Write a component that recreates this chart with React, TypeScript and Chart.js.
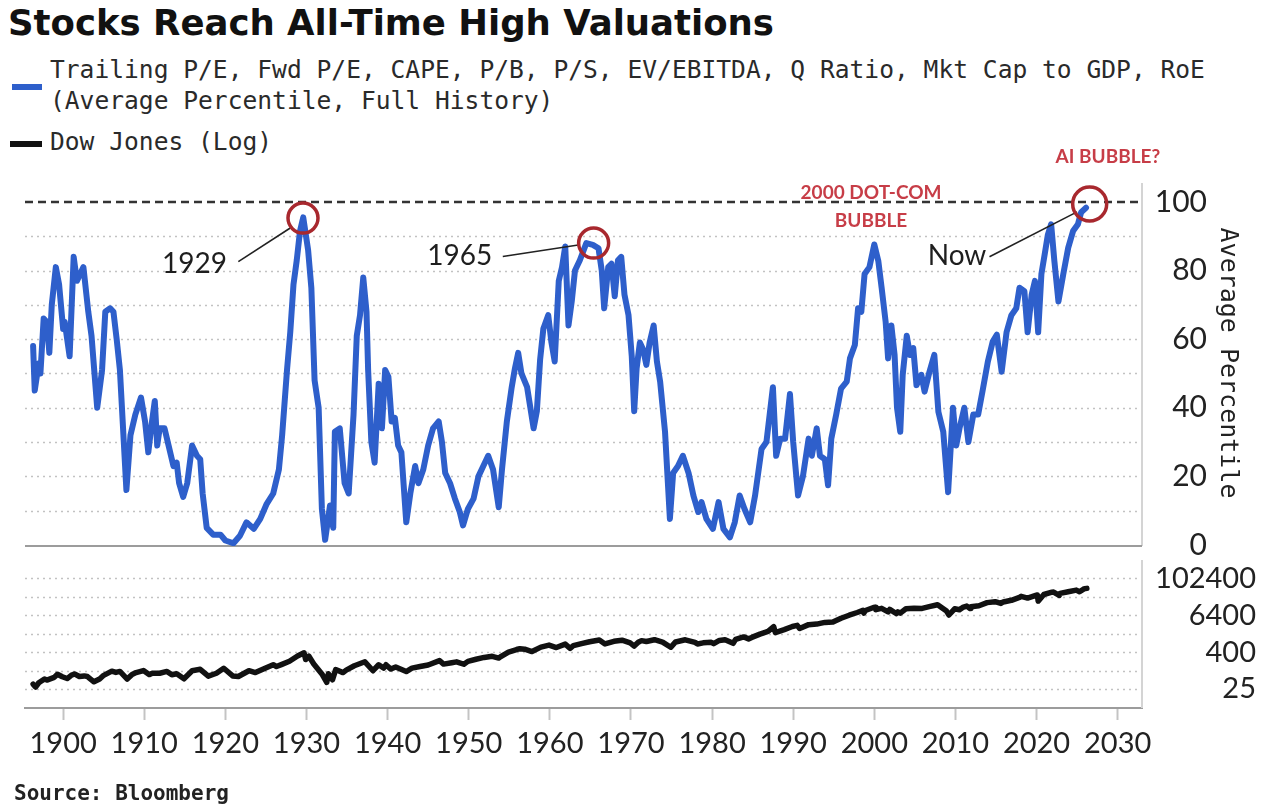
import React, { useEffect, useRef } from 'react';
import { Chart, registerables } from 'chart.js';

Chart.register(...registerables);

// Average valuation percentile (9 metrics, full history)
const valuationYears = [
  1896.3, 1896.5, 1897.0, 1897.2, 1897.6, 1898.0, 1898.3, 1898.6, 1899.1, 1899.5,
  1900.0, 1900.2, 1900.8, 1901.3, 1901.7, 1902.1, 1902.5, 1903.1, 1903.5, 1904.2,
  1904.8, 1905.2, 1905.8, 1906.2, 1906.6, 1907.0, 1907.8, 1908.3, 1908.9, 1909.6,
  1910.1, 1910.5, 1910.9, 1911.3, 1911.6, 1911.9, 1912.5, 1913.0, 1913.6, 1914.0,
  1914.3, 1914.8, 1915.3, 1915.9, 1916.5, 1916.9, 1917.2, 1917.7, 1918.5, 1919.4,
  1920.0, 1921.0, 1921.8, 1922.6, 1923.5, 1924.3, 1925.1, 1925.9, 1926.6, 1927.0,
  1927.6, 1928.0, 1928.4, 1928.8, 1929.2, 1929.6, 1930.2, 1930.6, 1931.0, 1931.5,
  1931.9, 1932.3, 1932.9, 1933.3, 1933.5, 1934.1, 1934.7, 1935.2, 1935.8, 1936.2,
  1936.6, 1937.0, 1937.4, 1937.6, 1938.0, 1938.4, 1938.9, 1939.3, 1939.7, 1940.1,
  1940.5, 1940.9, 1941.3, 1941.7, 1942.3, 1942.8, 1943.4, 1943.8, 1944.4, 1945.0,
  1945.6, 1946.3, 1946.7, 1947.1, 1947.7, 1948.3, 1948.9, 1949.3, 1949.9, 1950.6,
  1951.2, 1951.8, 1952.4, 1953.0, 1953.7, 1954.1, 1954.7, 1955.3, 1955.7, 1956.1,
  1956.5, 1957.2, 1957.6, 1958.0, 1958.4, 1958.8, 1959.2, 1959.8, 1960.2, 1960.6,
  1961.1, 1961.5, 1961.9, 1962.3, 1962.7, 1963.1, 1963.7, 1964.5, 1965.3, 1966.0,
  1966.4, 1966.7, 1967.2, 1967.6, 1968.0, 1968.4, 1968.8, 1969.2, 1969.7, 1970.1,
  1970.4, 1970.7, 1971.1, 1971.5, 1971.9, 1972.3, 1972.8, 1973.2, 1973.6, 1974.2,
  1974.8, 1975.2, 1975.8, 1976.4, 1977.1, 1977.7, 1978.3, 1978.7, 1979.3, 1980.1,
  1980.8, 1981.4, 1982.2, 1982.8, 1983.4, 1984.0, 1984.7, 1985.3, 1986.1, 1986.7,
  1987.1, 1987.5, 1987.9, 1988.4, 1989.0, 1989.6, 1990.0, 1990.6, 1991.2, 1991.9,
  1992.3, 1992.9, 1993.3, 1993.9, 1994.3, 1994.7, 1995.3, 1995.9, 1996.6, 1997.0,
  1997.6, 1998.0, 1998.4, 1998.8, 1999.4, 2000.0, 2000.5, 2000.9, 2001.4, 2001.7,
  2002.1, 2002.5, 2002.8, 2003.2, 2003.5, 2004.0, 2004.4, 2004.8, 2005.2, 2005.8,
  2006.2, 2006.8, 2007.4, 2007.9, 2008.5, 2009.1, 2009.7, 2010.1, 2010.5, 2011.1,
  2011.6, 2012.2, 2012.8, 2013.4, 2014.0, 2014.6, 2015.1, 2015.7, 2016.3, 2016.9,
  2017.5, 2017.9, 2018.5, 2018.9, 2019.4, 2019.8, 2020.2, 2020.6, 2021.0, 2021.4,
  2021.8, 2022.2, 2022.7, 2023.3, 2023.9, 2024.5, 2025.1, 2025.5, 2026.1,
];
const valuationPercentile = [
  58, 45, 53, 50, 66, 65, 56, 70, 81, 76,
  63, 65, 55, 84, 77, 79, 81, 68, 61, 40,
  51, 68, 69, 68, 60, 51, 16, 32, 38, 43,
  36, 27, 35, 42, 29, 34, 34, 29, 23, 24,
  18, 14, 18, 29, 26, 25, 15, 5, 3, 3,
  1.3, 0.5, 2.7, 6.6, 4.7, 7.6, 12, 15, 22, 32,
  51, 62, 76, 83, 91.5, 95.5, 86, 75, 48, 40,
  10.5, 1.5, 11.5, 5, 33, 34, 18, 15, 38, 61,
  67, 78, 68, 51, 30, 24, 47, 34, 51, 49,
  36, 37, 29, 27, 6.6, 15, 23, 18, 22, 29,
  34, 36, 30, 21, 18, 13.5, 9.6, 5.7, 10.5, 13.5,
  20, 23, 26, 22, 11, 22, 36, 46, 51.5, 56,
  50, 46, 40, 34, 39, 54, 63, 67, 59, 53.5,
  77, 81, 87, 64, 71, 80, 83, 88, 87.5, 86.5,
  80, 69, 81, 82, 72.5, 83, 84, 73, 67, 55,
  39, 51.5, 59, 57, 52.5, 59, 64, 53.5, 47.6, 33,
  7.6, 21, 23, 26, 21, 14.4, 9.6, 12.5, 7.6, 4.7,
  12.5, 4.7, 2.2, 6.6, 14.4, 10.5, 6.6, 14.4, 28, 30,
  38, 46, 26, 31, 31, 44, 30, 14.4, 20, 31,
  26, 34, 26, 25, 17.4, 31, 38, 45.6, 47.6, 54.4,
  58.3, 69, 68, 79, 81, 87.6, 82.7, 75, 65, 54.4,
  64, 55.4, 40, 33, 49.6, 61, 55.4, 57.4, 46.6, 49.6,
  44.7, 50.5, 55.4, 38.8, 33, 15.4, 40, 29, 34, 40,
  30, 38, 38, 45.6, 53.5, 59.3, 61.3, 50.5, 62, 67,
  69, 75, 74, 62, 73, 77, 62, 79, 84.7, 90.5,
  93.5, 82.7, 71, 79, 86.6, 91.5, 93.5, 97, 98.3,
];

// Dow Jones Industrial Average (index level, log axis)
const dowYears = [
  1896.3, 1896.6, 1897.0, 1897.7, 1898.0, 1898.9, 1899.3, 1899.9, 1900.5, 1901.0,
  1901.4, 1902.0, 1902.6, 1903.0, 1903.8, 1904.5, 1905.0, 1906.0, 1906.5, 1907.0,
  1907.9, 1908.5, 1909.0, 1909.9, 1910.6, 1911.0, 1911.9, 1912.8, 1913.4, 1914.0,
  1914.9, 1915.9, 1916.9, 1917.9, 1918.9, 1919.8, 1920.9, 1921.6, 1922.9, 1923.7,
  1924.9, 1925.9, 1926.3, 1926.9, 1927.9, 1928.9, 1929.7, 1929.9, 1930.3, 1930.9,
  1931.9, 1932.5, 1932.7, 1933.2, 1933.6, 1934.5, 1934.9, 1935.9, 1937.2, 1938.2,
  1938.9, 1939.5, 1939.8, 1940.4, 1941.0, 1942.3, 1943.0, 1944.0, 1945.0, 1946.4,
  1946.9, 1947.9, 1948.5, 1949.4, 1949.9, 1950.9, 1951.9, 1952.9, 1953.7, 1953.9,
  1954.9, 1955.9, 1956.3, 1956.9, 1957.8, 1958.9, 1959.9, 1960.8, 1961.9, 1962.5,
  1962.9, 1963.9, 1964.9, 1966.1, 1966.8, 1967.9, 1968.9, 1969.9, 1970.4, 1970.9,
  1971.3, 1971.9, 1972.9, 1973.9, 1974.9, 1975.5, 1976.7, 1977.9, 1978.2, 1978.9,
  1979.9, 1980.2, 1980.9, 1981.6, 1982.6, 1982.9, 1983.9, 1984.5, 1984.9, 1985.9,
  1986.9, 1987.6, 1987.8, 1988.9, 1989.9, 1990.5, 1990.8, 1991.9, 1992.9, 1993.9,
  1994.9, 1995.9, 1996.9, 1997.9, 1998.6, 1998.7, 1998.9, 1999.9, 2000.1, 2000.2,
  2000.9, 2001.7, 2001.9, 2002.7, 2002.9, 2003.2, 2003.9, 2004.9, 2005.9, 2006.9,
  2007.8, 2008.9, 2009.2, 2009.9, 2010.5, 2010.9, 2011.4, 2011.8, 2011.9, 2012.9,
  2013.9, 2014.9, 2015.6, 2015.9, 2016.9, 2017.9, 2018.1, 2018.9, 2019.9, 2020.1,
  2020.2, 2020.9, 2021.9, 2022.1, 2022.8, 2022.9, 2023.9, 2024.9, 2025.3, 2025.9,
  2026.2,
];
const dowLevels = [
  36, 29, 40, 53, 49, 60, 76, 63, 55, 70,
  78, 64, 67, 64, 43, 53, 70, 96, 87, 94,
  53, 75, 86, 100, 74, 82, 82, 94, 73, 79,
  54, 99, 110, 66, 82, 119, 67, 64, 99, 86,
  120, 156, 136, 157, 202, 300, 381, 230, 294, 165,
  78, 41, 79, 50, 108, 86, 104, 144, 194, 99,
  155, 121, 155, 112, 131, 93, 120, 136, 152, 212,
  163, 181, 193, 161, 200, 235, 269, 292, 256, 281,
  404, 488, 521, 500, 420, 584, 679, 566, 734, 535,
  652, 763, 874, 995, 744, 905, 985, 800, 631, 839,
  950, 890, 1020, 851, 578, 860, 1015, 831, 742, 805,
  839, 759, 964, 1024, 777, 1047, 1259, 1087, 1212, 1547,
  1896, 2722, 1739, 2169, 2753, 2999, 2365, 3169, 3301, 3754,
  3834, 5117, 6448, 7908, 9338, 7539, 9181, 11497, 11723, 9796,
  10787, 8236, 10022, 7286, 8342, 7524, 10454, 10783, 10718, 12463,
  14165, 8776, 6547, 10428, 9686, 11578, 12810, 10655, 12218, 13104,
  16577, 17823, 15666, 17425, 19763, 24719, 26617, 23327, 28538, 29551,
  18592, 30606, 36338, 36800, 28725, 33147, 37690, 42544, 37600, 47500,
  48500,
];

// Axis ticks and grid levels
const decadeTicks = [1900, 1910, 1920, 1930, 1940, 1950, 1960, 1970, 1980, 1990, 2000, 2010, 2020, 2030];
const percentileTicks = [0, 20, 40, 60, 80, 100];
const percentileGrid = [10, 20, 30, 40, 50, 60, 70, 80, 90];
const ceilingLevel = 100;
const dowTicks = [25, 400, 6400, 102400];
const dowGrid = [25, 100, 400, 1600, 6400, 25600, 102400];

// Callouts on the valuation panel (data coordinates)
const peakLabels = ['1929', '1965', 'Now'];
const peakLabelAt = [[1916.2, 81.9], [1948.9, 84.3], [2010.2, 84.3]];
const leaderFrom = [[1921.6, 82.6], [1954.2, 84.1], [2014.2, 84.0]];
const leaderTo = [[1928.0, 92.4], [1963.7, 87.5], [2025.0, 97.1]];
const ringAt = [[1929.57, 95.3], [1965.4, 88.0], [2026.55, 99.4]];
const bubbleNotes = ['2000 DOT-COM', 'BUBBLE', 'AI BUBBLE?'];
const bubbleNoteAt = [[1999.6, 102.6], [1999.6, 94.5], [2028.8, 113.1]];

const X_MIN = 1895.3;
const X_MAX = 2033;
const BLUE = '#2e5fcb';
const RING = '#a8282e';
const NOTE_RED = '#c73d47';
const NUM_FONT = 'Lato, "Open Sans", sans-serif';
const MONO_FONT = '"DejaVu Sans Mono", monospace';

function strokeLine(ctx: CanvasRenderingContext2D, x1: number, y1: number, x2: number, y2: number) {
  ctx.beginPath();
  ctx.moveTo(x1, y1);
  ctx.lineTo(x2, y2);
  ctx.stroke();
}

// Fixed-width right axis that doesn't reserve extra room above/below the plot
function fixRightAxis(width: number) {
  return (s: any) => {
    s.width = width;
    s.paddingTop = 0;
    s.paddingBottom = 0;
  };
}

// Right-aligned tick labels for the right-hand value axis
function rightTickLabels(id: string, rightEdge: number, size: number) {
  return {
    id,
    afterDraw(chart: any) {
      const { ctx } = chart;
      const y = chart.scales.y;
      ctx.save();
      ctx.font = `${size}px ${NUM_FONT}`;
      ctx.fillStyle = '#222';
      ctx.textAlign = 'right';
      ctx.textBaseline = 'middle';
      y.ticks.forEach((t: any) => {
        ctx.fillText(String(t.value), rightEdge, y.getPixelForValue(t.value));
      });
      ctx.restore();
    },
  };
}

const valuationDecor = {
  id: 'valuationDecor',
  beforeDatasetsDraw(chart: any) {
    const { ctx, chartArea: a, scales } = chart;
    const y = scales.y;
    ctx.save();
    ctx.lineWidth = 1.5;
    ctx.strokeStyle = '#c2c2c2';
    ctx.setLineDash([2, 4]);
    percentileGrid.forEach((v) => {
      const py = Math.round(y.getPixelForValue(v)) + 0.5;
      strokeLine(ctx, a.left, py, a.right, py);
    });
    ctx.lineWidth = 2.5;
    ctx.strokeStyle = '#333';
    ctx.setLineDash([8, 5]);
    const cy = Math.round(y.getPixelForValue(ceilingLevel));
    strokeLine(ctx, a.left, cy, a.right, cy);
    ctx.setLineDash([]);
    ctx.lineWidth = 2;
    ctx.strokeStyle = '#d4d4d4';
    strokeLine(ctx, a.right, a.top + 3, a.right, a.bottom);
    ctx.strokeStyle = '#9c9c9c';
    strokeLine(ctx, a.left, a.bottom, a.right, a.bottom);
    ctx.restore();
  },
  afterDatasetsDraw(chart: any) {
    const { ctx, scales } = chart;
    const { x, y } = scales;
    const px = (p: number[]) => [x.getPixelForValue(p[0]), y.getPixelForValue(p[1])];
    ctx.save();
    ctx.strokeStyle = '#222';
    ctx.lineWidth = 1.6;
    leaderFrom.forEach((f, i) => {
      const [x1, y1] = px(f);
      const [x2, y2] = px(leaderTo[i]);
      strokeLine(ctx, x1, y1, x2, y2);
    });
    ctx.strokeStyle = RING;
    ctx.lineWidth = 3.5;
    ringAt.forEach((r, i) => {
      const [cx, cy] = px(r);
      ctx.beginPath();
      ctx.arc(cx, cy, i === 2 ? 17 : 15, 0, Math.PI * 2);
      ctx.stroke();
    });
    ctx.fillStyle = '#1e1e1e';
    ctx.textAlign = 'center';
    ctx.textBaseline = 'middle';
    ctx.font = `28px ${NUM_FONT}`;
    peakLabels.forEach((t, i) => {
      const [lx, ly] = px(peakLabelAt[i]);
      ctx.fillText(t, lx, ly);
    });
    ctx.fillStyle = NOTE_RED;
    ctx.font = `bold 19px ${NUM_FONT}`;
    bubbleNotes.forEach((t, i) => {
      const [lx, ly] = px(bubbleNoteAt[i]);
      ctx.fillText(t, lx, ly);
    });
    ctx.restore();
  },
};

const dowDecor = {
  id: 'dowDecor',
  beforeDatasetsDraw(chart: any) {
    const { ctx, chartArea: a, scales } = chart;
    const y = scales.y;
    ctx.save();
    ctx.lineWidth = 1.5;
    ctx.strokeStyle = '#c2c2c2';
    ctx.setLineDash([2, 4]);
    dowGrid.forEach((v) => {
      const py = Math.round(y.getPixelForValue(v)) + 0.5;
      strokeLine(ctx, a.left, py, a.right, py);
    });
    ctx.setLineDash([]);
    ctx.lineWidth = 2;
    ctx.strokeStyle = '#d4d4d4';
    strokeLine(ctx, a.right, a.top, a.right, a.bottom);
    ctx.restore();
  },
};

function textBox(cy: number, lh: number): React.CSSProperties {
  return { position: 'absolute', top: cy - lh / 2, height: lh, lineHeight: `${lh}px`, whiteSpace: 'nowrap' };
}

export default function App() {
  const topRef = useRef<HTMLCanvasElement>(null);
  const bottomRef = useRef<HTMLCanvasElement>(null);

  useEffect(() => {
    if (!topRef.current || !bottomRef.current) return;

    const valuationChart = new Chart(topRef.current, {
      type: 'line',
      data: {
        datasets: [
          {
            data: valuationYears.map((yr, i) => ({ x: yr, y: valuationPercentile[i] })),
            borderColor: BLUE,
            borderWidth: 6,
            pointRadius: 0,
            borderJoinStyle: 'round',
            borderCapStyle: 'round',
            tension: 0,
          },
        ],
      },
      options: {
        animation: false,
        responsive: false,
        maintainAspectRatio: false,
        layout: { padding: { left: 25, top: 40, bottom: 14, right: 0 } },
        plugins: { legend: { display: false }, tooltip: { enabled: false } },
        scales: {
          x: { type: 'linear', min: X_MIN, max: X_MAX, display: false },
          y: {
            type: 'linear',
            position: 'right',
            min: -0.3,
            max: 106.4,
            afterBuildTicks: (s: any) => {
              s.ticks = percentileTicks.map((v) => ({ value: v }));
            },
            afterFit: fixRightAxis(138),
            grid: { display: false, drawTicks: false },
            border: { display: false },
            ticks: { display: false },
            title: {
              display: true,
              text: 'Average Percentile',
              font: { family: MONO_FONT, size: 25 },
              color: '#222',
              padding: { top: 38, bottom: 0 },
            },
          },
        },
      } as any,
      plugins: [valuationDecor, rightTickLabels('valuationTicks', 1207, 30)],
    });

    const dowChart = new Chart(bottomRef.current, {
      type: 'line',
      data: {
        datasets: [
          {
            data: dowYears.map((yr, i) => ({ x: yr, y: dowLevels[i] })),
            borderColor: '#111',
            borderWidth: 5.5,
            pointRadius: 0,
            borderJoinStyle: 'round',
            borderCapStyle: 'round',
            tension: 0,
          },
        ],
      },
      options: {
        animation: false,
        responsive: false,
        maintainAspectRatio: false,
        layout: { padding: { left: 25, top: 8, bottom: 0, right: 0 } },
        plugins: { legend: { display: false }, tooltip: { enabled: false } },
        scales: {
          x: {
            type: 'linear',
            min: X_MIN,
            max: X_MAX,
            afterBuildTicks: (s: any) => {
              s.ticks = decadeTicks.map((v) => ({ value: v }));
            },
            afterFit: (s: any) => {
              s.height = 101;
            },
            grid: { drawOnChartArea: false, drawTicks: true, tickLength: 12, tickColor: '#c4c4c4', tickWidth: 2 },
            border: { display: true, color: '#9c9c9c', width: 2 },
            ticks: {
              font: { family: NUM_FONT, size: 29 },
              color: '#222',
              padding: 6,
              maxRotation: 0,
              autoSkip: false,
              callback: (v: any) => String(v),
            },
          },
          y: {
            type: 'logarithmic',
            position: 'right',
            min: 6,
            max: 409600,
            afterBuildTicks: (s: any) => {
              s.ticks = dowTicks.map((v) => ({ value: v }));
            },
            afterFit: fixRightAxis(138),
            grid: { display: false, drawTicks: false },
            border: { display: false },
            ticks: { display: false },
          },
        },
      } as any,
      plugins: [dowDecor, rightTickLabels('dowTicks', 1256, 29)],
    });

    return () => {
      valuationChart.destroy();
      dowChart.destroy();
    };
  }, []);

  const legendText: React.CSSProperties = { fontFamily: MONO_FONT, fontSize: 24.6, color: '#2a2a2a', left: 50 };

  return (
    <div style={{ position: 'absolute', left: 0, top: 0, width: 1280, height: 809, background: '#fff', overflow: 'hidden' }}>
      <div style={{ ...textBox(23, 40), left: 8, fontFamily: '"DejaVu Sans", sans-serif', fontWeight: 'bold', fontSize: 35.5, color: '#111' }}>
        Stocks Reach All-Time High Valuations
      </div>
      <div style={{ position: 'absolute', left: 12, top: 84, width: 30, height: 6, background: BLUE }} />
      <div style={{ ...textBox(70, 30), ...legendText }}>
        Trailing P/E, Fwd P/E, CAPE, P/B, P/S, EV/EBITDA, Q Ratio, Mkt Cap to GDP, RoE
      </div>
      <div style={{ ...textBox(101, 30), ...legendText }}>(Average Percentile, Full History)</div>
      <div style={{ position: 'absolute', left: 10, top: 141, width: 32, height: 6, background: '#111' }} />
      <div style={{ ...textBox(142, 30), ...legendText }}>Dow Jones (Log)</div>
      <canvas ref={topRef} width={1280} height={420} style={{ position: 'absolute', left: 0, top: 140, width: 1280, height: 420 }} />
      <canvas ref={bottomRef} width={1280} height={257} style={{ position: 'absolute', left: 0, top: 552, width: 1280, height: 257 }} />
      <div style={{ ...textBox(793, 26), left: 14, fontFamily: MONO_FONT, fontWeight: 'bold', fontSize: 21, color: '#222' }}>
        Source: Bloomberg
      </div>
    </div>
  );
}
